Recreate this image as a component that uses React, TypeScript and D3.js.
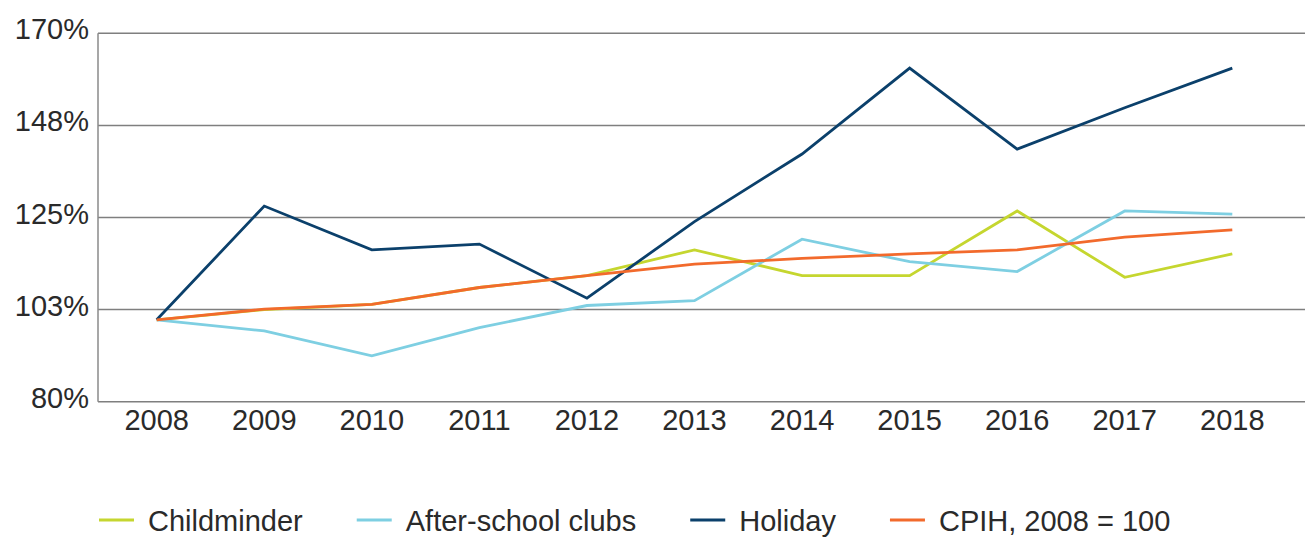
import React, { useRef, useEffect } from 'react';
import * as d3 from 'd3';

// index values, 2008 = 100
const years = ['2008', '2009', '2010', '2011', '2012', '2013', '2014', '2015', '2016', '2017', '2018'];
const childminder = [100, 102.5, 103.8, 107.9, 110.8, 117.1, 110.8, 110.8, 126.6, 110.4, 116.1];
const afterSchool = [100, 97.3, 91.2, 98.1, 103.5, 104.7, 119.7, 114.2, 111.8, 126.6, 125.8];
const holiday = [100, 127.8, 117.1, 118.5, 105.3, 124.0, 140.5, 161.5, 141.7, 151.8, 161.5];
const cpih = [100, 102.6, 103.8, 107.9, 110.8, 113.6, 115.0, 116.1, 117.1, 120.2, 122.0];

const yTicks = [80, 102.5, 125, 147.5, 170];
const yTickLabels = ['80%', '103%', '125%', '148%', '170%'];

const seriesNames = ['Childminder', 'After-school clubs', 'Holiday', 'CPIH, 2008 = 100'];
const seriesColors = ['#c5d62f', '#7ecfe2', '#0b406b', '#f26a2c'];

const W = 1305;
const H = 538;
const FONT = '"Liberation Sans", Arial, sans-serif';

const App = () => {
    const svg = useRef<SVGSVGElement>(null);

    useEffect(() => {
        const root = d3.select(svg.current);
        root.selectAll('*').remove();

        const left = 98;
        const top = 33.3;
        const bottom = 401.7;

        const x = d3.scalePoint<string>().domain(years).range([156.7, 1232.3]);
        const y = d3.scaleLinear().domain([80, 170]).range([bottom, top]);

        // gridlines (the bottom one doubles as the x axis)
        root.append('g')
            .selectAll('line')
            .data(yTicks)
            .join('line')
            .attr('x1', left)
            .attr('x2', W)
            .attr('y1', d => y(d))
            .attr('y2', d => y(d))
            .attr('stroke', '#7f7f7f')
            .attr('stroke-width', 1.5);

        root.append('line')
            .attr('x1', left)
            .attr('x2', left)
            .attr('y1', y(170))
            .attr('y2', y(80))
            .attr('stroke', '#8a8a8a')
            .attr('stroke-width', 1.5);

        // y tick labels
        root.append('g')
            .selectAll('text')
            .data(yTicks)
            .join('text')
            .attr('x', 89)
            .attr('y', d => y(d) + 6)
            .attr('text-anchor', 'end')
            .attr('font-family', FONT)
            .attr('font-size', 29)
            .attr('fill', '#2a2a2a')
            .text((d, i) => yTickLabels[i]);

        // x tick labels
        root.append('g')
            .selectAll('text')
            .data(years)
            .join('text')
            .attr('x', d => x(d)!)
            .attr('y', bottom + 28.5)
            .attr('text-anchor', 'middle')
            .attr('font-family', FONT)
            .attr('font-size', 29)
            .attr('fill', '#2a2a2a')
            .text(d => d);

        // lines, CPIH drawn last so it sits on top
        const allSeries = [childminder, afterSchool, holiday, cpih];
        const line = d3.line<number>()
            .x((d, i) => x(years[i])!)
            .y(d => y(d));

        root.append('g')
            .selectAll('path')
            .data(allSeries)
            .join('path')
            .attr('d', d => line(d))
            .attr('fill', 'none')
            .attr('stroke', (d, i) => seriesColors[i])
            .attr('stroke-width', 2.8)
            .attr('stroke-linejoin', 'miter');

        // legend, laid out left to right by measured text width
        // (nudged up a little so descenders stay inside the picture)
        const legend = root.append('g');
        let lx = 99;
        const ly = 520;
        seriesNames.forEach((name, i) => {
            legend.append('line')
                .attr('x1', lx)
                .attr('x2', lx + 35)
                .attr('y1', ly)
                .attr('y2', ly)
                .attr('stroke', seriesColors[i])
                .attr('stroke-width', 3);
            const t = legend.append('text')
                .attr('x', lx + 49)
                .attr('y', 531)
                .attr('font-family', FONT)
                .attr('font-size', 29)
                .attr('fill', '#2a2a2a')
                .text(name);
            const tw = (t.node() as SVGTextElement).getComputedTextLength();
            lx = lx + 49 + tw + 54;
        });
    }, []);

    return (
        <svg
            width={W}
            height={H}
            ref={svg}
            style={{ position: 'absolute', left: 0, top: 0, background: '#fff' }}
        >
        </svg>
    );
};

export default App;
